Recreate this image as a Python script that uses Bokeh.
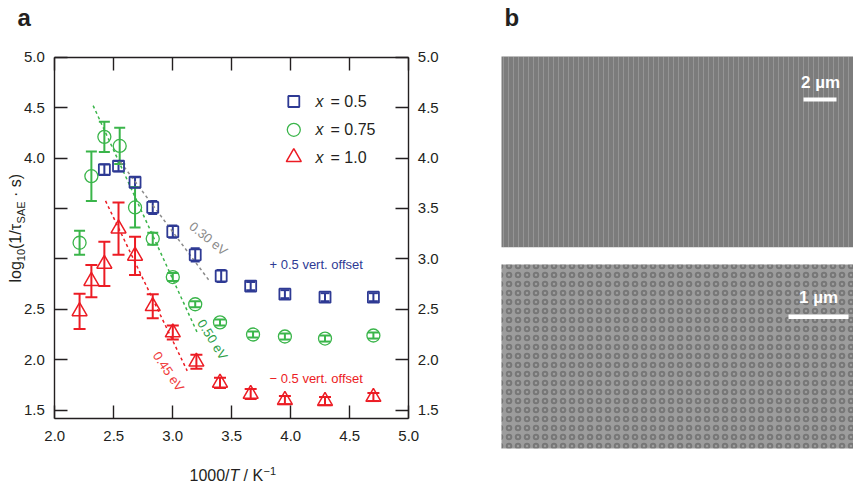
import math
from bokeh.plotting import figure
from bokeh.models import (ColumnDataSource, Range1d, LinearAxis, FixedTicker,
                          PrintfTickFormatter, Whisker, TeeHead, Label)
from bokeh.embed import file_html
from bokeh.resources import INLINE

# panel a: 1000/T (K^-1) vs log10(1/tau_SAE * s), with error bars
x_05 = [2.42, 2.54, 2.68, 2.83, 3.00, 3.19, 3.41, 3.66, 3.95, 4.29, 4.70]
y_05 = [3.885, 3.92, 3.76, 3.51, 3.27, 3.04, 2.83, 2.73, 2.65, 2.62, 2.62]
e_05 = [0.05, 0.05, 0.05, 0.065, 0.06, 0.065, 0.06, 0.04, 0.04, 0.04, 0.04]

x_075 = [2.21, 2.31, 2.42, 2.55, 2.68, 2.83, 3.00, 3.19, 3.40, 3.68, 3.95, 4.29, 4.70]
y_075 = [3.16, 3.82, 4.21, 4.12, 3.51, 3.20, 2.82, 2.55, 2.37, 2.25, 2.23, 2.21, 2.24]
e_075 = [0.12, 0.245, 0.15, 0.18, 0.20, 0.06, 0.04, 0.03, 0.03, 0.03, 0.03, 0.03, 0.03]

x_10 = [2.21, 2.31, 2.42, 2.54, 2.68, 2.83, 3.00, 3.20, 3.40, 3.66, 3.95, 4.29, 4.70]
y_10 = [2.48, 2.78, 2.95, 3.30, 3.03, 2.53, 2.27, 1.98, 1.77, 1.66, 1.60, 1.59, 1.63]
e_10 = [0.175, 0.16, 0.22, 0.26, 0.19, 0.12, 0.07, 0.07, 0.05, 0.05, 0.04, 0.04, 0.04]

# activation energy fits (dashed)
fit30_x = [2.557, 3.305]
fit30_y = [3.96, 2.79]
fit50_x = [2.325, 3.207]
fit50_y = [4.52, 2.27]
fit45_x = [2.43, 3.122]
fit45_y = [3.575, 1.89]

x_ticks = [2.0, 2.5, 3.0, 3.5, 4.0, 4.5, 5.0]
y_ticks = [1.5, 2.0, 2.5, 3.0, 3.5, 4.0, 4.5, 5.0]

BLUE = "#2e3a94"
GREEN = "#3ab54a"
RED = "#ec1c24"
GRAY = "#8a8a8a"
INK = "#231f20"
FONT = "Liberation Sans"

W, H = 853, 485
X_LO, X_HI = 2.0, 5.0
Y_LO, Y_HI = 1.42, 5.0
# where the box of panel a sits on the page, px
BOX_L, BOX_R, BOX_T, BOX_B = 54.3, 408.3, 56.7, 417.7
SX = (X_HI - X_LO) / (BOX_R - BOX_L)
SY = (Y_HI - Y_LO) / (BOX_B - BOX_T)


def px_x(wx):
    return X_LO + (wx - BOX_L) * SX


def px_y(wy):
    return Y_HI - (wy - BOX_T) * SY


p = figure(width=W, height=H,
           x_range=Range1d(px_x(0), px_x(W)), y_range=Range1d(px_y(H), px_y(0)),
           output_backend="svg", toolbar_location=None, x_axis_location=None,
           y_axis_location=None, min_border=0)
p.title.visible = False
p.grid.visible = False
p.outline_line_color = None
p.background_fill_color = "white"
p.border_fill_color = "white"


def make_axis(ticks, loc, bounds, standoff, overrides=None):
    ax = LinearAxis(ticker=FixedTicker(ticks=ticks), fixed_location=loc, bounds=bounds,
                    formatter=PrintfTickFormatter(format="%.1f"))
    ax.major_tick_in = 13
    ax.major_tick_out = 0
    ax.minor_tick_line_color = None
    ax.axis_line_color = INK
    ax.axis_line_width = 1.4
    ax.major_tick_line_color = INK
    ax.major_tick_line_width = 1.4
    ax.major_label_text_font = FONT
    ax.major_label_text_font_size = "15px"
    ax.major_label_text_color = INK
    ax.major_label_standoff = standoff
    if overrides:
        ax.major_label_overrides = overrides
    return ax


p.add_layout(make_axis(x_ticks, Y_LO, (X_LO, X_HI), 13), "below")
top = make_axis(x_ticks, Y_HI, (X_LO, X_HI), 8)
top.major_label_text_color = None
p.add_layout(top, "above")
p.add_layout(make_axis(y_ticks, X_LO, (Y_LO, Y_HI), 10, {3.5: "", 3.0: ""}), "left")
p.add_layout(make_axis(y_ticks, X_HI, (Y_LO, Y_HI), 9), "right")

# fits
p.line(fit30_x, fit30_y, line_color=GRAY, line_dash="3 3", line_width=1.5)
p.line(fit50_x, fit50_y, line_color=GREEN, line_dash="3 3", line_width=1.5)
p.line(fit45_x, fit45_y, line_color=RED, line_dash="3 3", line_width=1.5)

series = [
    (x_05, y_05, e_05, BLUE, "square", 11, 9, 1.8),
    (x_075, y_075, e_075, GREEN, "circle", 13, 11, 1.3),
    (x_10, y_10, e_10, RED, "triangle", 15, 12, 1.5),
]
for xs, ys, es, col, mk, sz, cap, lw in series:
    src = ColumnDataSource(dict(x=xs, y=ys,
                                lo=[v - e for v, e in zip(ys, es)],
                                hi=[v + e for v, e in zip(ys, es)]))
    p.add_layout(Whisker(source=src, base="x", lower="lo", upper="hi", dimension="height",
                         line_color=col, line_width=2,
                         lower_head=TeeHead(size=cap, line_color=col, line_width=2),
                         upper_head=TeeHead(size=cap, line_color=col, line_width=2)))
    p.scatter("x", "y", source=src, marker=mk, size=sz, fill_color=None,
              line_color=col, line_width=lw)


def lab(text, wx, wy, size=16, color=INK, style="normal", align="left", angle=0.0):
    # wy is the middle of the text line, in page px
    p.add_layout(Label(x=px_x(wx), y=px_y(wy), text=text, text_font=FONT,
                       text_font_size=f"{size}px", text_color=color,
                       text_font_style=style, text_align=align,
                       text_baseline="middle", angle=angle))


# legend
leg = [("0.5", BLUE, "square", 11, 1.8, 101), ("0.75", GREEN, "circle", 13, 1.3, 129.3),
       ("1.0", RED, "triangle", 15, 1.5, 156.7)]
for txt, col, mk, sz, lw, wy in leg:
    p.scatter([px_x(293.3)], [px_y(wy)], marker=mk, size=sz, fill_color=None,
              line_color=col, line_width=lw)
    lab("x", 315, wy, style="italic")
    lab("= " + txt, 330, wy)

lab("+ 0.5 vert. offset", 269, 264, size=13, color=BLUE)
lab("\u2212 0.5 vert. offset", 269, 378, size=13, color=RED)
lab("0.30 eV", 208, 238, size=13, color=GRAY, align="center", angle=-math.radians(39))
lab("0.50 eV", 212, 339, size=13, color="#2a9e45", align="center", angle=-math.radians(58))
lab("0.45 eV", 168, 371, size=13, color="#ef3a3a", align="center", angle=-math.radians(56))

# axis titles, built from pieces for the sub/superscripts
up = math.pi / 2
lab("log", 14.5, 282, angle=up)
lab("10", 20.5, 260.7, size=11, angle=up)
lab("(1/\u03c4", 14.5, 248.5, angle=up)
lab("SAE", 20.5, 222.9, size=11, angle=up)
lab("\u00b7 s)", 14.5, 196.5, angle=up)

lab("1000/", 189, 475)
lab("T", 229, 475, style="italic")
lab("/ K", 243, 475)
lab("\u22121", 263, 470.5, size=11)

lab("a", 17, 17, size=24, style="bold")
lab("b", 504, 17, size=24, style="bold")

# panel b: SEM micrographs (grey placeholders with scale bars)
p.quad(left=[px_x(501)], right=[px_x(853)], top=[px_y(56)], bottom=[px_y(246.7)],
       fill_color="#7c7c7c", line_color=None, hatch_pattern="|", hatch_color="#c4c4c4",
       hatch_alpha=0.35, hatch_scale=5, hatch_weight=1)
p.quad(left=[px_x(501)], right=[px_x(853)], top=[px_y(264)], bottom=[px_y(448)],
       fill_color="#9c9c9c", line_color=None, hatch_pattern="o", hatch_color="#303030",
       hatch_alpha=0.35, hatch_scale=9, hatch_weight=2)
p.quad(left=[px_x(803)], right=[px_x(836)], top=[px_y(97)], bottom=[px_y(101)],
       fill_color="white", line_color=None)
p.quad(left=[px_x(788)], right=[px_x(848)], top=[px_y(314)], bottom=[px_y(318.5)],
       fill_color="white", line_color=None)
lab("2 \u00b5m", 820, 82, size=17, color="white", style="bold", align="center")
lab("1 \u00b5m", 818, 297, size=17, color="white", style="bold", align="center")

open("out.html", "w").write(file_html(p, INLINE))
